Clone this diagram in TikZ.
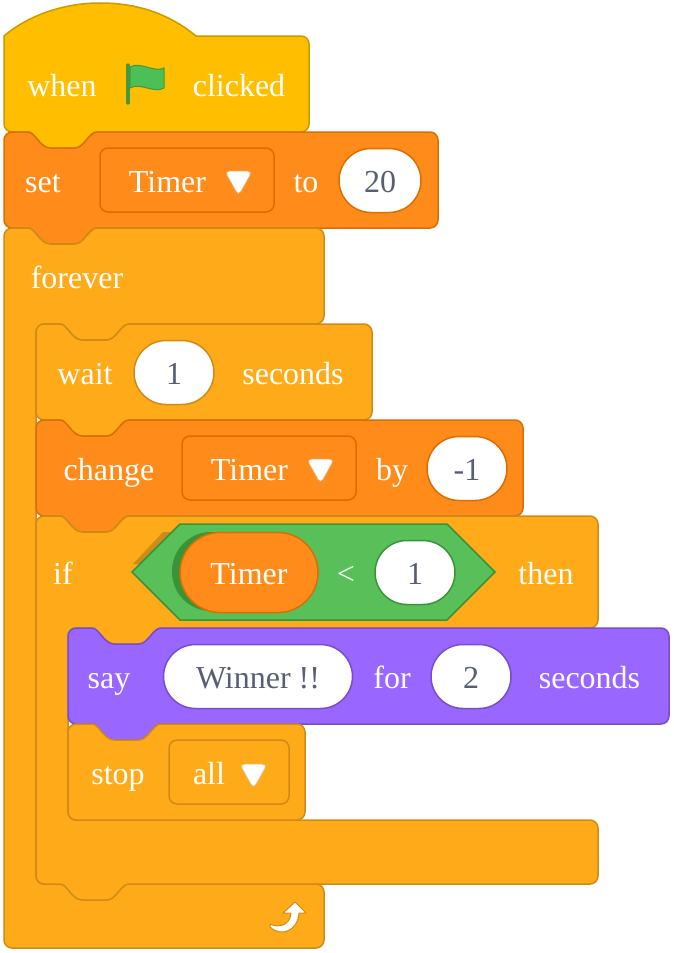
\documentclass[tikz,border=0pt]{standalone}
\usepackage{fontspec}
\setmainfont{Liberation Serif}
\usetikzlibrary{shapes.misc}
\definecolor{hatfill}{HTML}{FFBF00}
\definecolor{hatline}{HTML}{CC9900}
\definecolor{varfill}{HTML}{FF8C1A}
\definecolor{varline}{HTML}{DB6E00}
\definecolor{ctlfill}{HTML}{FFAB19}
\definecolor{ctlline}{HTML}{CF8B17}
\definecolor{sayfill}{HTML}{9966FF}
\definecolor{sayline}{HTML}{774DCB}
\definecolor{opfill}{HTML}{59C059}
\definecolor{opline}{HTML}{389438}
\definecolor{inptext}{HTML}{575E75}
\definecolor{flagfill}{HTML}{4CBF56}
\definecolor{flagline}{HTML}{45993D}
\tikzset{
  hatblock/.style = {fill = hatfill, draw = hatline, line width = 1.5pt},
  varblock/.style = {fill = varfill, draw = varline, line width = 1.5pt},
  ctlblock/.style = {fill = ctlfill, draw = ctlline, line width = 1.5pt},
  sayblock/.style = {fill = sayfill, draw = sayline, line width = 1.5pt},
  lbl/.style = {text = white, inner sep = 0pt, text height = 23pt, text depth = 0pt,
    font = \fontsize{32}{32}\selectfont},
  pill/.style = {lbl, text = inptext, rounded rectangle, fill = white, draw = #1,
    line width = 1.5pt, minimum height = 64pt},
  dropbox/.style = {draw = #1, line width = 1.5pt, rounded corners = 8pt, minimum height = 64pt},
  dropmark/.style = {fill = white, draw = #1!60!white, line width = .8pt, rounded corners = 5pt}
}
% notch of a stack block, going right (top edge) or left (bottom edge)
\newcommand{\topnotch}[2]{-- ({#1+24}, #2) .. controls ({#1+31}, #2) and ({#1+36}, {#2+16}) .. ({#1+46}, {#2+16})
  -- ({#1+71}, {#2+16}) .. controls ({#1+80}, {#2+16}) and ({#1+85}, #2) .. ({#1+93}, #2)}
\newcommand{\botnotch}[2]{-- ({#1+93}, #2) .. controls ({#1+85}, #2) and ({#1+80}, {#2+16}) .. ({#1+71}, {#2+16})
  -- ({#1+46}, {#2+16}) .. controls ({#1+36}, {#2+16}) and ({#1+31}, #2) .. ({#1+24}, #2)}
% round corner at (x, y), coming in from direction a, leaving to direction b
\newcommand{\cnr}[6]{-- ({#1+8*(#3)}, {#2+8*(#4)}) .. controls ({#1+3.6*(#3)}, {#2+3.6*(#4)}) and ({#1+3.6*(#5)}, {#2+3.6*(#6)}) .. ({#1+8*(#5)}, {#2+8*(#6)})}
% x0, y0, x1, y1, bottom edge extra
\newcommand{\stackblock}[6]{\draw [#1] (#2, {#3+8}) \cnr{#2}{#3}{0}{1}{1}{0} \topnotch{#2}{#3}
  \cnr{#4}{#3}{-1}{0}{0}{1} \cnr{#4}{#5}{0}{-1}{-1}{0}
  #6 \cnr{#2}{#5}{1}{0}{0}{-1} -- cycle;}
% x0, y0, x1, y1, inner x, arm y, lower arm y, bottom edge extra
\newcommand{\cblock}[9]{\draw [#1] (#2, {#3+8}) \cnr{#2}{#3}{0}{1}{1}{0} \topnotch{#2}{#3}
  \cnr{#4}{#3}{-1}{0}{0}{1} \cnr{#4}{#7}{0}{-1}{-1}{0}
  \botnotch{#6}{#7} \cnr{#6}{#7}{1}{0}{0}{1} \cnr{#6}{#8}{0}{-1}{1}{0}
  \cnr{#4}{#8}{-1}{0}{0}{1} \cnr{#4}{#5}{0}{-1}{-1}{0}
  #9 \cnr{#2}{#5}{1}{0}{0}{-1} -- cycle;}
\newcommand{\dropmarker}[3]{\draw [dropmark = #1] ({#2-14}, {#3-10}) -- ({#2+14}, {#3-10}) -- (#2, {#3+15}) -- cycle;}
\begin{document}
\begin{tikzpicture}[x = 1pt, y = -1pt]
      \useasboundingbox (0, 0) rectangle (673, 953);
      % when clicked
      \draw [hatblock] (4, 36) .. controls (30, 14) and (66, 3) .. (100, 3)
        .. controls (136, 3) and (168, 13) .. (196, 36) \cnr{309}{36}{-1}{0}{0}{1}
        \cnr{309}{132}{0}{-1}{-1}{0} \botnotch{4}{132} \cnr{4}{132}{1}{0}{0}{-1} -- cycle;
      \node [lbl] (when) at (62, 84.5) {when};
      \node [lbl] (clicked) at (239, 84.5) {clicked};
      \draw [draw = flagline, line width = 3.5pt, line cap = round] (128, 65) -- (128, 103);
      \draw [fill = flagfill, draw = flagline, line width = 1pt] (130, 67)
        .. controls (140, 61) and (154, 73) .. (164, 68) -- (164, 88)
        .. controls (154, 94) and (140, 82) .. (130, 88) -- cycle;
      % set
      \stackblock{varblock}{4}{132}{438}{228}{\botnotch{4}{228}}
      \node [lbl] (set) at (43, 180.5) {set};
      \node [dropbox = varline, minimum width = 174pt] (setdrop) at (187, 180) {};
      \node [lbl] (settimer) at (167.5, 180.5) {Timer};
      \dropmarker{varline}{238.5}{181}
      \node [lbl] (to) at (306, 180.5) {to};
      \node [pill = varline, minimum width = 82pt] (setval) at (380, 180.5) {20};
      % forever
      \cblock{ctlblock}{4}{228}{324}{948}{36}{324}{884}{}
      \node [lbl] (forever) at (77, 276.5) {forever};
      % wait
      \stackblock{ctlblock}{36}{324}{372}{420}{\botnotch{36}{420}}
      \node [lbl] (wait) at (85, 372.5) {wait};
      \node [pill = ctlline, minimum width = 80pt] (waitval) at (174, 372.5) {1};
      \node [lbl] (waitsec) at (293, 372.5) {seconds};
      % change
      \stackblock{varblock}{36}{420}{523}{516}{\botnotch{36}{516}}
      \node [lbl] (change) at (109, 468.5) {change};
      \node [dropbox = varline, minimum width = 174pt] (changedrop) at (269, 468) {};
      \node [lbl] (changetimer) at (249.5, 468.5) {Timer};
      \dropmarker{varline}{320.5}{469}
      \node [lbl] (by) at (392, 468.5) {by};
      \node [pill = varline, minimum width = 80pt] (changeval) at (467, 468.5) {-1};
      % if
      \cblock{ctlblock}{36}{516}{598}{884}{68}{628}{820}{\botnotch{36}{884}}
      \node [lbl] (if) at (63, 572.5) {if};
      \fill [ctlline] (133, 564) -- (163, 532) -- (180, 532) -- (150, 564) -- cycle;
      \draw [fill = opfill, draw = opline, line width = 1.5pt] (132, 572) -- (180, 524) -- (447, 524)
        -- (495, 572) -- (447, 620) -- (180, 620) -- cycle;
      \fill [opline, rounded corners = 39pt] (172, 532) rectangle (300, 611);
      \node [pill = varline, text = white, fill = varfill, minimum width = 138pt, minimum height = 80pt]
        (timer) at (249, 572.5) {Timer};
      \node [lbl] (less) at (346, 572.5) {<};
      \node [pill = opline, minimum width = 80pt] (ifval) at (415, 572.5) {1};
      \node [lbl] (then) at (546, 572.5) {then};
      % say
      \stackblock{sayblock}{68}{628}{669}{724}{\botnotch{68}{724}}
      \node [lbl] (say) at (109, 676.5) {say};
      \node [pill = sayline, minimum width = 189pt] (winner) at (258, 676.5) {Winner !!};
      \node [lbl] (for) at (392, 676.5) {for};
      \node [pill = sayline, minimum width = 80pt] (sayval) at (471, 676.5) {2};
      \node [lbl] (saysec) at (589.5, 676.5) {seconds};
      % stop
      \stackblock{ctlblock}{68}{724}{305}{820}{}
      \node [lbl] (stop) at (118, 772.5) {stop};
      \node [dropbox = ctlline, minimum width = 120pt] (stopdrop) at (229, 772) {};
      \node [lbl] (all) at (209, 772.5) {all};
      \dropmarker{ctlline}{253.5}{774}
      % loop arrow
      \draw [fill = white, draw = ctlline, line width = 1pt, line join = round] (270, 924)
        .. controls (278, 928) and (290, 926) .. (291, 913) -- (283, 913) -- (295, 902) -- (306, 913) -- (299, 913)
        .. controls (298, 930) and (282, 938) .. (270, 927) -- cycle;
    \end{tikzpicture}
\end{document}
